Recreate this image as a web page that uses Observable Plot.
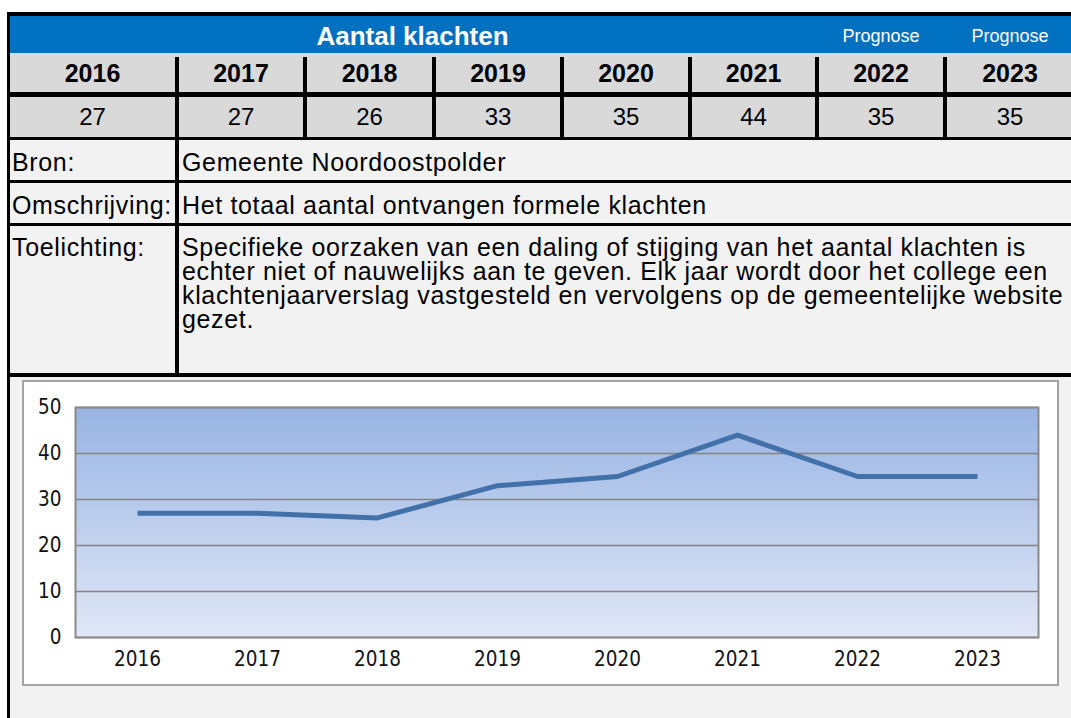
<!DOCTYPE html>
<html>
<head>
<meta charset="utf-8">
<script src="https://cdn.jsdelivr.net/npm/d3@7"></script>
<script src="https://cdn.jsdelivr.net/npm/@observablehq/plot@0.6"></script>
<style>
  html, body { margin: 0; padding: 0; background: #ffffff; overflow: hidden; width: 1071px; height: 718px; }
  #sheet { position: absolute; left: 0; top: 0; width: 1100px; height: 740px; font-family: "Liberation Sans", Arial, sans-serif; color: #000; }
  .blk { position: absolute; background: #000; }
  .cell { position: absolute; display: flex; align-items: center; box-sizing: border-box; white-space: nowrap; }
  .c { justify-content: center; }
  .gray { background: #d9d9d9; }
  .light { background: #f2f2f2; }
  #chartbox { position: absolute; left: 22px; top: 380px; width: 1037px; height: 306px; box-sizing: border-box; border: 2px solid #a3a3a3; background: #ffffff; }
</style>
</head>
<body>
<div id="sheet"></div>
<script>
// ---- data ----
const years = ["2016", "2017", "2018", "2019", "2020", "2021", "2022", "2023"];
const klachten = [27, 27, 26, 33, 35, 44, 35, 35];
const prognoseYears = ["2022", "2023"];
const yTicks = [0, 10, 20, 30, 40, 50];
const title = "Aantal klachten";
const prognoseLabel = "Prognose";
const infoLabels = ["Bron:", "Omschrijving:", "Toelichting:"];
const infoTexts = [
  "Gemeente Noordoostpolder",
  "Het totaal aantal ontvangen formele klachten",
  "Specifieke oorzaken van een daling of stijging van het aantal klachten is<br>echter niet of nauwelijks aan te geven. Elk jaar wordt door het college een<br>klachtenjaarverslag vastgesteld en vervolgens op de gemeentelijke website<br>gezet."
];

// ---- layout (table) ----
const sheet = document.getElementById("sheet");
function add(cls, x, y, w, h, html, style) {
  const d = document.createElement("div");
  d.className = cls;
  Object.assign(d.style, {left: x + "px", top: y + "px", width: w + "px", height: h + "px"}, style || {});
  if (html != null) d.innerHTML = html;
  sheet.appendChild(d);
  return d;
}
add("blk", 7, 12, 1080, 720);
const colX = [10, 179, 307, 436, 564, 692, 819, 947];
const colR = [175, 303, 432, 560, 688, 815, 943, 1073];
// blue header
add("cell", 10, 16, 1070, 37, null, {background: "#0070c0"});
add("cell c", 10, 16, 815 - 10, 37, title, {color: "#fff", fontWeight: "bold", fontSize: "26px", paddingTop: "3px"});
prognoseYears.forEach(py => {
  const i = years.indexOf(py);
  add("cell c", colX[i], 16, colR[i] - colX[i], 37, prognoseLabel, {color: "#fff", fontSize: "18px", paddingTop: "3px"});
});
// year row
add("cell gray", 10, 53, 1070, 4);
years.forEach((yr, i) => {
  add("cell c gray", colX[i], 53, colR[i] - colX[i], 39, yr, {fontWeight: "bold", fontSize: "25px", paddingTop: "2px"});
});
// value row
years.forEach((yr, i) => {
  add("cell c gray", colX[i], 97, colR[i] - colX[i], 40, String(klachten[i]), {fontSize: "24px"});
});
// info rows
const rowsY = [[140, 40], [183, 40], [226, 147]];
infoLabels.forEach((lab, i) => {
  const [y, h] = rowsY[i];
  const extra = i === 2 ? {alignItems: "flex-start", paddingTop: "9px"} : {paddingTop: "4px"};
  const base = {fontSize: "25px", letterSpacing: "0.65px", lineHeight: "24px", overflow: "visible"};
  add("cell light", 10, y, 165, h, lab, Object.assign({}, base, {paddingLeft: "2px"}, extra));
  add("cell light", 179, y, 1073 - 179, h, infoTexts[i], Object.assign({}, base, {paddingLeft: "3px"}, extra));
});
// chart area
add("cell light", 10, 377, 1070, 400);
const box = document.createElement("div");
box.id = "chartbox";
sheet.appendChild(box);

// ---- chart ----
const data = years.map((y, i) => ({year: y, value: klachten[i]}));

function gradientBackground(index, scales, values, dimensions) {
  const {width, height, marginLeft, marginTop, marginRight, marginBottom} = dimensions;
  const g = d3.create("svg:g");
  const grad = g.append("defs").append("linearGradient")
    .attr("id", "plotbg").attr("x1", 0).attr("y1", 0).attr("x2", 0).attr("y2", 1);
  grad.append("stop").attr("offset", "0%").attr("stop-color", "#98b4e3");
  grad.append("stop").attr("offset", "100%").attr("stop-color", "#e0e7f6");
  g.append("rect")
    .attr("x", marginLeft).attr("y", marginTop)
    .attr("width", width - marginLeft - marginRight)
    .attr("height", height - marginTop - marginBottom)
    .attr("fill", "url(#plotbg)");
  return g.node();
}

const chart = Plot.plot({
  width: 1033,
  height: 302,
  marginLeft: 51,
  marginTop: 25,
  marginRight: 19,
  marginBottom: 47,
  style: {
    fontFamily: "'DejaVu Sans Condensed', 'DejaVu Sans', sans-serif",
    fontStretch: "condensed",
    fontSize: "20.5px",
    color: "#111111",
    background: "transparent",
    overflow: "visible"
  },
  x: {type: "point", domain: years, padding: 0.5, label: null, tickSize: 0, tickPadding: 14},
  y: {domain: [0, 50], ticks: yTicks, label: null, tickSize: 0, tickPadding: 14},
  marks: [
    gradientBackground,
    Plot.ruleY(yTicks, {stroke: "#848484", strokeWidth: 1.6}),
    Plot.frame({stroke: "#8a8a8a", strokeWidth: 2}),
    Plot.line(data, {x: "year", y: "value", stroke: "#4270a8", strokeWidth: 5, strokeLinecap: "butt", strokeLinejoin: "miter"})
  ]
});
box.appendChild(chart);
</script>
</body>
</html>
